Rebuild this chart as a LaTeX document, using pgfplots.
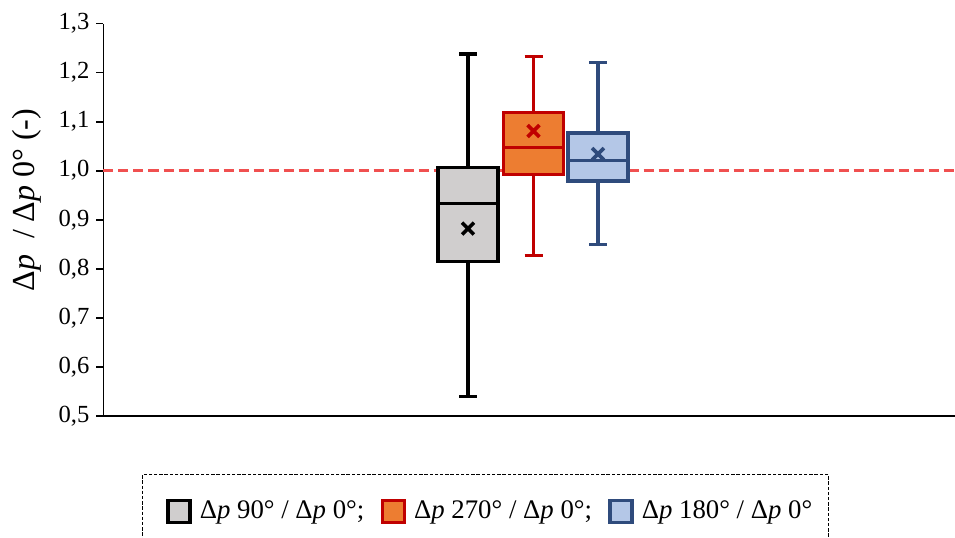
\documentclass[border=0pt]{standalone}
\usepackage{fontspec}
\setmainfont{Liberation Serif}
\usepackage{pgfplots}
\pgfplotsset{compat=1.18}
\definecolor{boxgray}{HTML}{D0CECE}
\definecolor{boxorange}{HTML}{ED7D31}
\definecolor{borderred}{HTML}{C00000}
\definecolor{boxblue}{HTML}{B4C7E7}
\definecolor{borderblue}{HTML}{2F4B7C}
\definecolor{dashred}{HTML}{F05050}
\pgfplotsset{
  boxst/.style={forget plot, line width=1.6pt, line join=miter, line cap=rect},
  whst/.style={forget plot, line width=1.6pt},
  meanst/.style={forget plot, only marks, mark=x, mark size=4.2pt, mark options={line width=1.8pt}},
}
\begin{document}
\begin{tikzpicture}
\begin{axis}[
  at={(51.75pt,60.5pt)}, anchor=south west,
  scale only axis, width=425.75pt, height=196.25pt,
  xmin=1.035, xmax=9.55, ymin=0.5, ymax=1.3,
  axis lines*=left,
  axis line style={line width=0.9pt, black},
  xtick=\empty,
  ytick={0.5,0.6,0.7,0.8,0.9,1.0,1.1,1.2,1.3},
  tick align=outside, major tick length=3.5pt,
  tick style={line width=0.9pt, black},
  yticklabel style={/pgf/number format/fixed, /pgf/number format/fixed zerofill, /pgf/number format/precision=1, /pgf/number format/use comma, /pgf/number format/assume math mode=true, font=\fontsize{12.3}{14}\selectfont},
  ylabel={Δ\textit{p}\ \ / Δ\textit{p} 0° (-)},
  every axis y label/.style={at={(rel axis cs:-0.0898,0.55)}, rotate=90, anchor=center, font=\fontsize{16}{18}\selectfont},
  clip=false,
  legend columns=3,
  legend cell align=left,
  legend style={at={(0.0452,-0.1478)}, anchor=north west, draw=black, line width=0.5pt, dash pattern=on 1.7pt off 0.9pt, font=\fontsize{13.4}{16}\selectfont, inner xsep=12pt, inner ysep=12pt,
    nodes={inner xsep=0pt, inner ysep=1pt},
    /tikz/every odd column/.append style={column sep=4pt},
    /tikz/every even column/.append style={column sep=8.2pt}},
]
\addplot[forget plot, color=dashred, line width=1.5pt, dash pattern=on 5pt off 2.5pt] coordinates {(1.035,1.0) (9.55,1.0)};

% --- Box 1: dp 90 / dp 0 (gray)
\addplot[whst, draw=black] coordinates {(4.68,0.540) (4.68,0.815)};
\addplot[whst, draw=black] coordinates {(4.68,1.006) (4.68,1.238)};
\addplot[whst, draw=black] coordinates {(4.59,0.540) (4.77,0.540)};
\addplot[whst, draw=black] coordinates {(4.59,1.238) (4.77,1.238)};
\addplot[boxst, draw=black, fill=boxgray] coordinates {(4.38,0.815) (4.98,0.815) (4.98,1.006) (4.38,1.006) (4.38,0.815)};
\addplot[boxst, draw=black] coordinates {(4.38,0.933) (4.98,0.933)};
\addplot[meanst, draw=black] coordinates {(4.68,0.882)};

% --- Box 2: dp 270 / dp 0 (orange)
\addplot[whst, draw=borderred] coordinates {(5.335,0.827) (5.335,0.992)};
\addplot[whst, draw=borderred] coordinates {(5.335,1.118) (5.335,1.232)};
\addplot[whst, draw=borderred] coordinates {(5.245,0.827) (5.425,0.827)};
\addplot[whst, draw=borderred] coordinates {(5.245,1.232) (5.425,1.232)};
\addplot[boxst, draw=borderred, fill=boxorange] coordinates {(5.035,0.992) (5.635,0.992) (5.635,1.118) (5.035,1.118) (5.035,0.992)};
\addplot[boxst, draw=borderred] coordinates {(5.035,1.047) (5.635,1.047)};
\addplot[meanst, draw=borderred] coordinates {(5.335,1.081)};

% --- Box 3: dp 180 / dp 0 (blue)
\addplot[whst, draw=borderblue] coordinates {(5.98,0.849) (5.98,0.979)};
\addplot[whst, draw=borderblue] coordinates {(5.98,1.077) (5.98,1.220)};
\addplot[whst, draw=borderblue] coordinates {(5.89,0.849) (6.07,0.849)};
\addplot[whst, draw=borderblue] coordinates {(5.89,1.220) (6.07,1.220)};
\addplot[boxst, draw=borderblue, fill=boxblue] coordinates {(5.68,0.979) (6.28,0.979) (6.28,1.077) (5.68,1.077) (5.68,0.979)};
\addplot[boxst, draw=borderblue] coordinates {(5.68,1.020) (6.28,1.020)};
\addplot[meanst, draw=borderblue] coordinates {(5.98,1.034)};

\addlegendimage{legend image code/.code={\draw[solid, line width=1.65pt, draw=black, fill=boxgray] (0pt,-5.5pt) rectangle (11pt,5.5pt);}}
\addlegendentry{Δ\textit{p} 90° / Δ\textit{p} 0°;}
\addlegendimage{legend image code/.code={\draw[solid, line width=1.65pt, draw=borderred, fill=boxorange] (0pt,-5.5pt) rectangle (11pt,5.5pt);}}
\addlegendentry{Δ\textit{p} 270° / Δ\textit{p} 0°;}
\addlegendimage{legend image code/.code={\draw[solid, line width=1.65pt, draw=borderblue, fill=boxblue] (0pt,-5.5pt) rectangle (11pt,5.5pt);}}
\addlegendentry{Δ\textit{p} 180° / Δ\textit{p} 0°\hspace*{-4pt}}
\end{axis}
\pgfresetboundingbox
\path[use as bounding box] (0,0) rectangle (477.5pt,268.5pt);
\end{tikzpicture}
\end{document}
